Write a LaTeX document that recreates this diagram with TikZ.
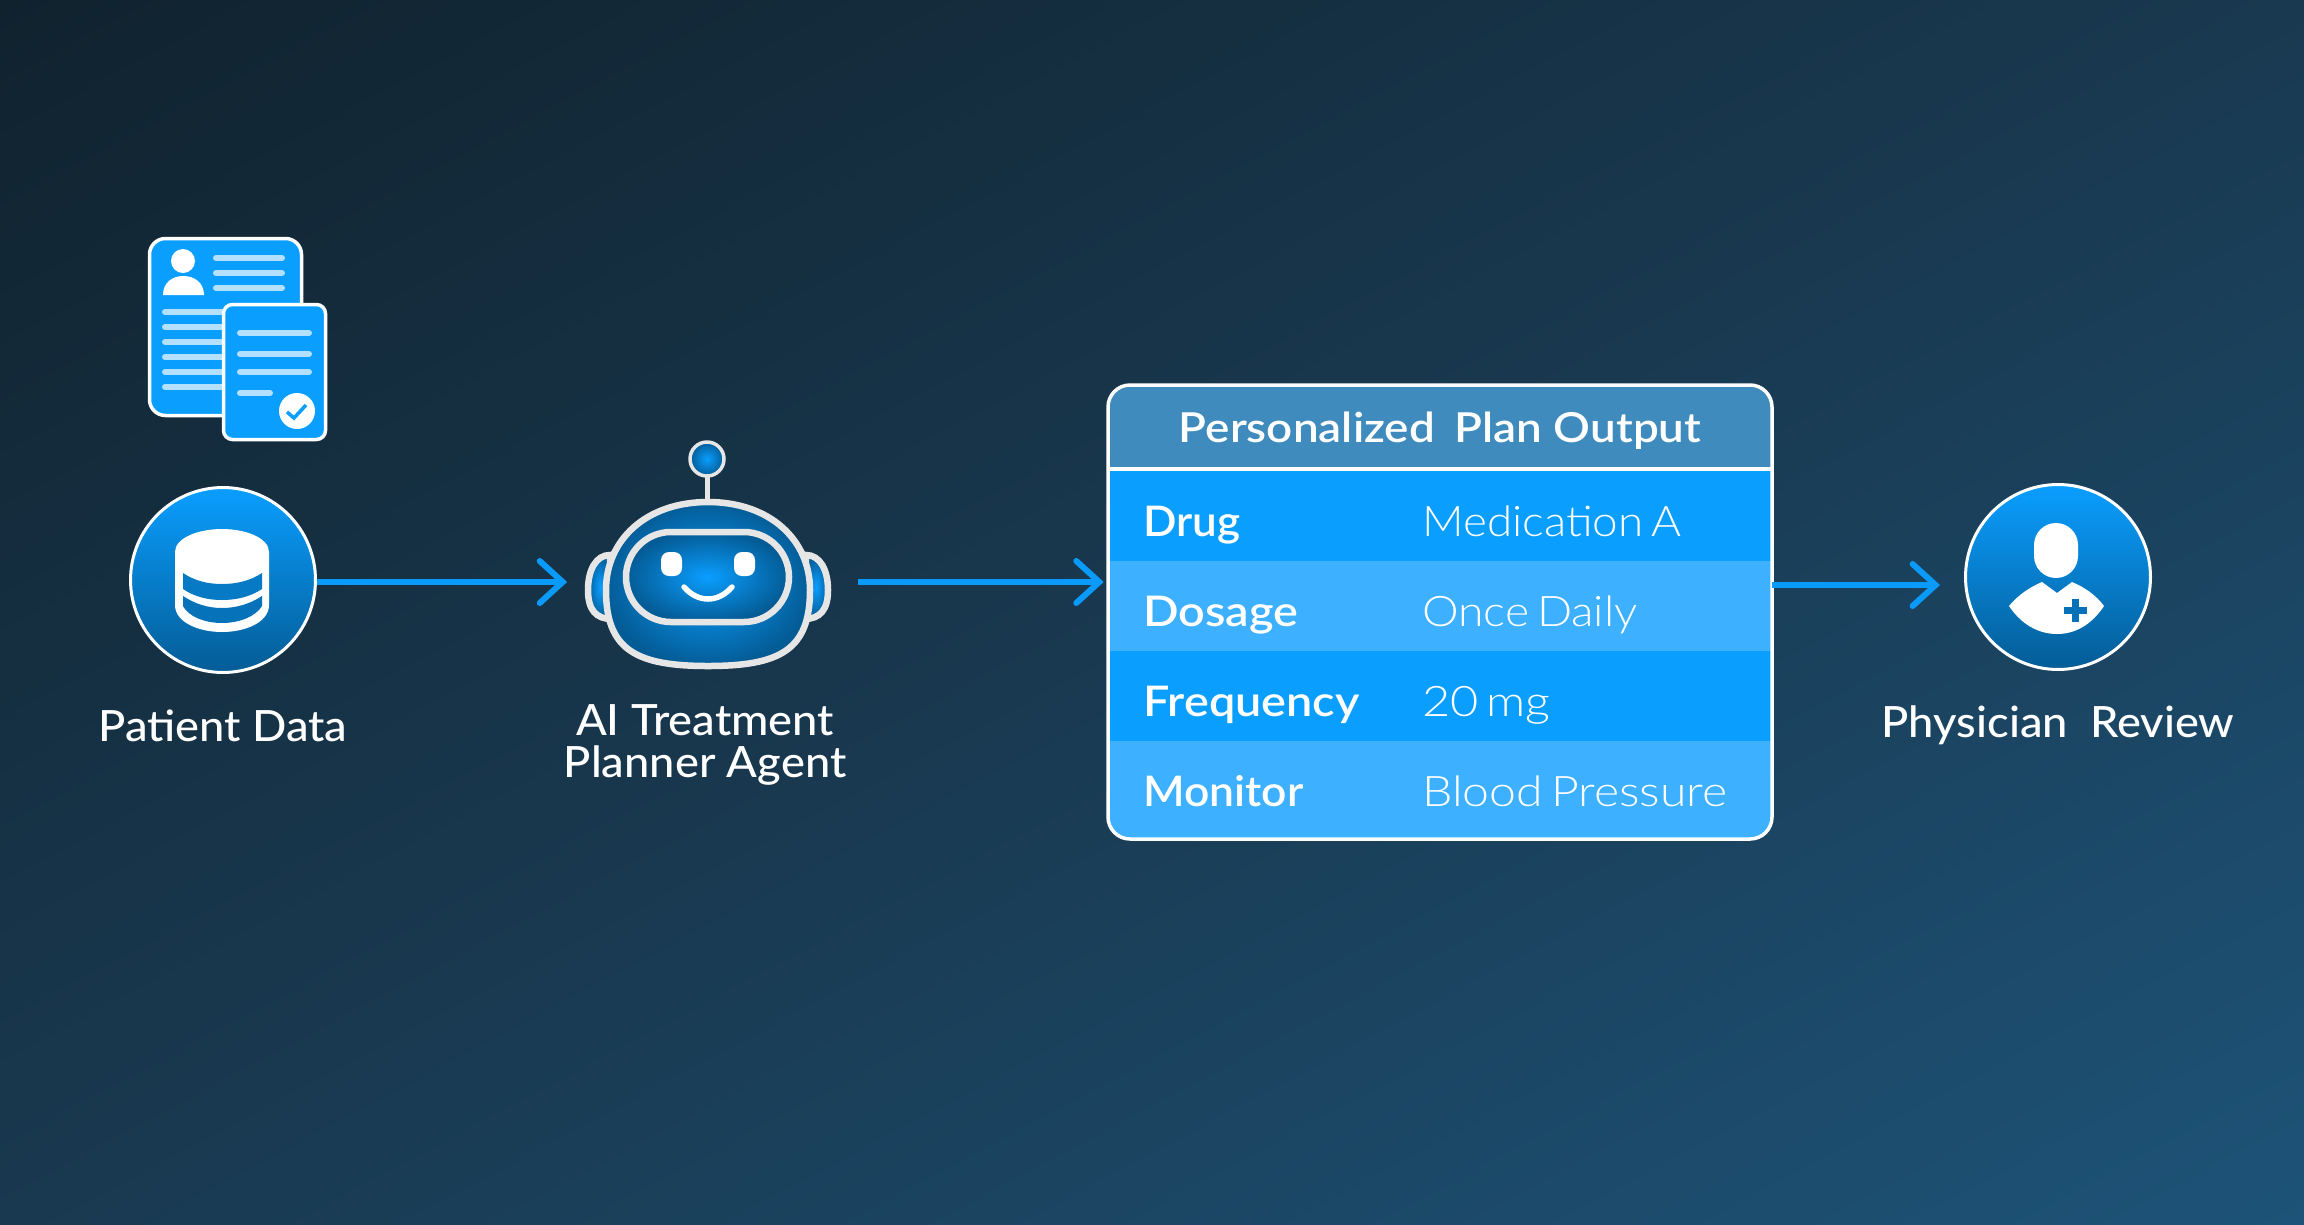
\documentclass[tikz,border=0pt]{standalone}
\usepackage{fontspec}
\usepackage{graphicx}
\usetikzlibrary{arrows.meta,calc}
\setmainfont{Lato}
\newfontfamily\fmed[FakeStretch=1.05]{Lato Medium}
\newfontfamily\fsemi[FakeStretch=1.11]{Lato Semibold}
\newfontfamily\flight[FakeStretch=1.12,WordSpace=0.6]{Lato Light}
\definecolor{bgA}{HTML}{10222E}
\definecolor{bgM}{HTML}{193950}
\definecolor{bgB}{HTML}{1D5378}
\definecolor{blueT}{HTML}{0A9EFF}
\definecolor{blueL}{HTML}{3DB0FF}
\definecolor{blueD}{HTML}{045C96}
\definecolor{blueH}{HTML}{3F8BBD}
\definecolor{lineC}{HTML}{B3E0FF}
\definecolor{flowC}{HTML}{0A9AFA}
\definecolor{steel}{HTML}{E6E6E6}
\definecolor{crossC}{HTML}{0572B8}
\pgfdeclareverticalshading{pagebg}{100bp}{color(0bp)=(bgB); color(26.5bp)=(bgB); color(50bp)=(bgM); color(73.5bp)=(bgA); color(100bp)=(bgA)}
\tikzset{
  x=0.02cm,y=-0.02cm,
  flow/.style={draw=flowC,line width=0.12cm,-{Straight Barb[length=0.46cm,width=0.84cm,line cap=round,line width=0.12cm]}},
  disc/.style={circle,draw=white,line width=0.06cm,top color=blueT,bottom color=blueD,minimum size=3.7cm,inner sep=0},
  doc/.style={fill=blueT,draw=white,line width=0.07cm},
  docline/.style={draw=lineC,line width=0.12cm,line cap=round},
  steelline/.style={draw=steel,line width=0.13cm},
  glow/.style={inner color=blueT,outer color=blueD},
  lbl/.style={text=white,inner sep=0,anchor=base,font=\fmed\fontsize{24.5pt}{29pt}\selectfont},
  rowkey/.style={text=white,inner sep=0,anchor=base west,font=\fsemi\fontsize{24pt}{29pt}\selectfont},
  rowval/.style={text=white,inner sep=0,anchor=base west,font=\flight\fontsize{24pt}{29pt}\selectfont},
  headtext/.style={text=white,inner sep=0,anchor=base,font=\fsemi\fontsize{23.5pt}{29pt}\selectfont},
}
\begin{document}
\begin{tikzpicture}
\useasboundingbox (0,0) rectangle (2304,1224);
\begin{scope}
\clip (0,0) rectangle (2304,1224);
\shade[shading=pagebg,shading angle=28] (0,-540) rectangle (2304,1764);
\end{scope}

% document icons
\draw[doc,rounded corners=0.32cm] (149.5,238.5) rectangle (301.5,415.5);
\fill[white] (183,261) circle (12);
\fill[white] (163,295) .. controls (163,283) and (172,276) .. (183,276) .. controls (195,276) and (204,283) .. (204,295) -- cycle;
\foreach \yy in {258,273,288} \draw[docline] (216,\yy) -- (282,\yy);
\foreach \yy in {312,327,342,357,372,387} \draw[docline] (165,\yy) -- (240,\yy);
\draw[doc,rounded corners=0.18cm] (223.5,304.5) rectangle (325.5,439.5);
\foreach \yy in {333,354,372} \draw[docline] (240,\yy) -- (309,\yy);
\draw[docline] (240,393) -- (270,393);
\fill[white] (297,411) circle (18);
\draw[draw=blueT,line width=0.07cm] (287,412) -- (294,418) -- (306,405);

% patient node
\node[disc] (patient) at (223,580) {};
\fill[white] (175,552) .. controls (175,538) and (198,529) .. (222,529) .. controls (246,529) and (269,538) .. (269,552) -- (269,605) .. controls (269,622) and (246,632) .. (222,632) .. controls (198,632) and (175,622) .. (175,605) -- cycle;
\fill[blueT!45!blueD] (183,573) .. controls (195,581) and (208,584) .. (222,584) .. controls (236,584) and (250,581) .. (262,573) -- (262,589) .. controls (250,597) and (236,600) .. (222,600) .. controls (208,600) and (195,597) .. (183,589) -- cycle;
\fill[blueT!34!blueD] (183,596) .. controls (195,604) and (208,608) .. (222,608) .. controls (236,608) and (250,604) .. (262,596) -- (262,606) .. controls (256,616) and (240,623) .. (222,623) .. controls (204,623) and (188,616) .. (183,606) -- cycle;
\node[lbl] (patientlbl) at (223,741) {Patient Data};

% robot
\node[minimum width=4.92cm,minimum height=3.4cm,inner sep=0] (robot) at (708,582) {};
\draw[steelline,glow] (610,555) .. controls (596,555) and (588,570) .. (588,590) .. controls (588,610) and (596,619) .. (612,619) -- cycle;
\draw[steelline,glow] (806,555) .. controls (820,555) and (828,570) .. (828,590) .. controls (828,610) and (820,619) .. (804,619) -- cycle;
\draw[draw=steel,line width=0.1cm] (707,470) -- (707,502);
\draw[draw=steel,line width=0.07cm,glow] (707,459) circle (17);
\draw[steelline,glow] (708,502) .. controls (770,502) and (810,540) .. (810,590) .. controls (810,650) and (780,666) .. (708,666) .. controls (636,666) and (606,650) .. (606,590) .. controls (606,540) and (646,502) .. (708,502) -- cycle;
\draw[steelline,glow,rounded corners=0.9cm] (626,532) rectangle (789,622);
\fill[white,rounded corners=0.16cm] (661,552) rectangle (682,576);
\fill[white,rounded corners=0.16cm] (734,552) rectangle (755,576);
\draw[white,line width=0.11cm,line cap=round] (684,587) .. controls (698,603) and (718,603) .. (732,587);
\node[lbl] (robotlblA) at (705,735) {AI Treatment};
\node[lbl] (robotlblB) at (705,777) {Planner Agent};

% table
\node[minimum width=13.28cm,minimum height=9.08cm,inner sep=0] (plan) at (1440,612) {};
\begin{scope}
\clip[rounded corners=0.44cm] (1108,385) rectangle (1772,839);
\fill[blueH] (1108,385) rectangle (1772,469);
\fill[blueT] (1108,469) rectangle (1772,561);
\fill[blueL] (1108,561) rectangle (1772,651);
\fill[blueT] (1108,651) rectangle (1772,741);
\fill[blueL] (1108,741) rectangle (1772,839);
\end{scope}
\draw[white,line width=0.07cm] (1108,469) -- (1772,469);
\draw[white,line width=0.07cm,rounded corners=0.44cm] (1108,385) rectangle (1772,839);
\node[headtext] (title) at (1440,442) {Personalized\hspace{0.2em} Plan Output};
\node[rowkey] (k1) at (1143,536) {\scalebox{.94}[1]{Drug}};
\node[rowkey] (k2) at (1143,626) {Dosage};
\node[rowkey] (k3) at (1143,716) {Frequency};
\node[rowkey] (k4) at (1143,806) {\scalebox{.95}[1]{Monitor}};
\node[rowval] (v1) at (1422,536) {\scalebox{.97}[1]{Medication A}};
\node[rowval] (v2) at (1422,626) {\scalebox{.98}[1]{Once Daily}};
\node[rowval] (v3) at (1422,716) {\scalebox{1.03}[1]{20 mg}};
\node[rowval] (v4) at (1422,806) {\scalebox{1.02}[1]{Blood Pressure}};

% physician
\node[disc] (phys) at (2058,577) {};
\fill[white,rounded corners=0.44cm] (2034,523) rectangle (2078,578);
\fill[white] (2009,606) .. controls (2018,595) and (2030,587) .. (2042,582) -- (2057,593) -- (2072,582) .. controls (2084,587) and (2096,595) .. (2104,606) .. controls (2092,624) and (2076,634) .. (2057,634) .. controls (2038,634) and (2021,624) .. (2009,606) -- cycle;
\draw[crossC,line width=0.14cm] (2063.5,610) -- (2086.5,610) (2075,598.5) -- (2075,621.5);
\node[lbl] (physlbl) at (2058,737) {Physician\hspace{0.25em} Review};

% connectors
\coordinate (physin) at (1940,585);
\draw[flow] (patient.east |- robot.west) -- ([xshift=-0.35cm]robot.west);
\draw[flow] ([xshift=0.54cm]robot.east) -- ([xshift=-0.08cm]plan.west |- robot.east);
\draw[flow] (plan.east |- physin) -- (physin);
\end{tikzpicture}
\end{document}
